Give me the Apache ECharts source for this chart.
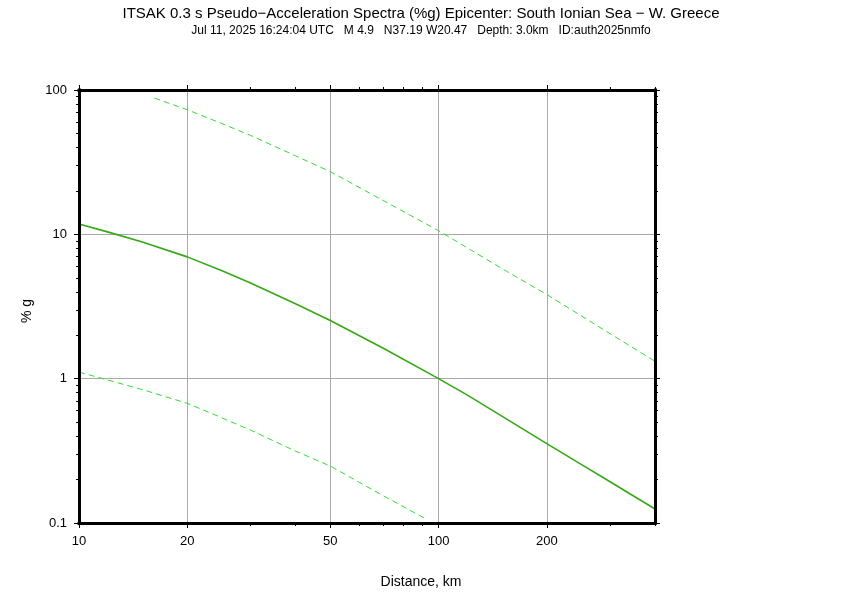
<!DOCTYPE html>
<html>
<head>
<meta charset="utf-8">
<script src="https://cdn.jsdelivr.net/npm/echarts@6/dist/echarts.min.js"></script>
<style>html,body{margin:0;padding:0;background:#fff}#c{width:842px;height:595px}</style>
</head>
<body>
<div id="c"></div>
<script>
// ---- data ----
const distMed = [10, 12, 15, 20, 25, 30, 40, 50, 70, 100, 120, 150, 200, 250, 300, 400];
const pgaMed  = [11.8, 10.4, 8.85, 6.98, 5.6, 4.6, 3.3, 2.53, 1.63, 1.0, 0.772, 0.55, 0.355, 0.254, 0.193, 0.125];
const distUp  = [16.2, 20, 25, 30, 40, 50, 70, 100, 150, 200, 300, 400];
const pgaUp   = [88, 73, 58.5, 48.5, 35, 27.2, 17.2, 10.6, 5.8, 3.83, 2.05, 1.32];
const distLo  = [10, 12, 15, 20, 25, 30, 40, 50, 70, 92];
const pgaLo   = [1.11, 0.98, 0.84, 0.675, 0.535, 0.44, 0.315, 0.248, 0.155, 0.107];

const xMajor = [10, 20, 50, 100, 200];
const xMinor = [30, 40, 60, 70, 80, 90, 300, 400];
const xGrid  = [20, 50, 100, 200];
const yMajor = [0.1, 1, 10, 100];
const yMinor = [0.2,0.3,0.4,0.5,0.6,0.7,0.8,0.9,2,3,4,5,6,7,8,9,20,30,40,50,60,70,80,90];
const yGrid  = [1, 10];
const xRange = [10, 400];
const yRange = [0.1, 100];

const titleText = 'ITSAK 0.3 s Pseudo\u2212Acceleration Spectra (%g) Epicenter: South Ionian Sea \u2212 W. Greece';
const subText = 'Jul 11, 2025 16:24:04 UTC   M 4.9   N37.19 W20.47   Depth: 3.0km   ID:auth2025nmfo';
const xName = 'Distance, km';
const yName = '% g';

// ---- helpers ----
const L = Math.log10;
const FONT = '"Liberation Sans", Arial, Helvetica, sans-serif';
function fmt(v) { return String(parseFloat(Math.pow(10, v).toPrecision(3))); }
function pair(xs, ys) { return xs.map((x, i) => [x, ys[i]]); }

function decoAxis(kind, pos, vals, opts) {
  const rng = kind === 'x' ? xRange : yRange;
  return {
    type: 'value', position: pos, min: L(rng[0]), max: L(rng[1]),
    z: opts.z || 3,
    axisLine: { show: !!opts.line, onZero: false, lineStyle: { color: '#000', width: 3, cap: 'square' } },
    axisTick: { show: !!opts.tick, inside: false, length: opts.len || 5, customValues: vals.map(L),
                lineStyle: { color: '#000', width: 1 } },
    axisLabel: opts.label ? { show: true, customValues: vals.map(L), formatter: fmt, color: '#000',
                fontSize: 13, fontFamily: FONT, margin: opts.margin || 10 } : { show: false },
    splitLine: { show: !!opts.split, lineStyle: { color: '#a9a9a9', width: 1 } }
  };
}

const chart = echarts.init(document.getElementById('c'), null, { renderer: 'canvas' });
const option = {
  backgroundColor: '#fff',
  animation: false,
  grid: { left: 79, right: 187, top: 90, bottom: 72, containLabel: false },
  xAxis: [
    { type: 'log', logBase: 10, min: xRange[0], max: xRange[1], show: false },
    decoAxis('x', 'bottom', xGrid, { split: true, z: 1 }),
    decoAxis('x', 'bottom', xMajor, { line: true, tick: true, label: true, len: 5, margin: 12 }),
    decoAxis('x', 'bottom', xMinor, { tick: true, len: 3 }),
    decoAxis('x', 'top', xMajor, { line: true, tick: true, len: 5 }),
    decoAxis('x', 'top', xMinor, { tick: true, len: 3 })
  ],
  yAxis: [
    { type: 'log', logBase: 10, min: yRange[0], max: yRange[1], show: false },
    decoAxis('y', 'left', yGrid, { split: true, z: 1 }),
    decoAxis('y', 'left', yMajor, { line: true, tick: true, label: true, len: 5, margin: 12 }),
    decoAxis('y', 'left', yMinor, { tick: true, len: 3 }),
    decoAxis('y', 'right', yMajor, { line: true, tick: true, len: 5 }),
    decoAxis('y', 'right', yMinor, { tick: true, len: 3 })
  ],
  series: [
    { type: 'line', name: 'upper', xAxisIndex: 0, yAxisIndex: 0, data: pair(distUp, pgaUp),
      showSymbol: false, symbol: 'none', smooth: false, z: 2,
      lineStyle: { color: '#33dd33', width: 1, type: [6, 4] } },
    { type: 'line', name: 'lower', xAxisIndex: 0, yAxisIndex: 0, data: pair(distLo, pgaLo),
      showSymbol: false, symbol: 'none', smooth: false, z: 2,
      lineStyle: { color: '#33dd33', width: 1, type: [6, 4] } },
    { type: 'line', name: 'median', xAxisIndex: 0, yAxisIndex: 0, data: pair(distMed, pgaMed),
      showSymbol: false, symbol: 'none', smooth: false, z: 2,
      lineStyle: { color: '#35a815', width: 1.6 } }
  ],
  graphic: [
    { type: 'text', left: 'center', top: 6, style: { text: titleText, fill: '#000', font: '15px ' + FONT } },
    { type: 'text', left: 'center', top: 25, style: { text: subText, fill: '#000', font: '12px ' + FONT } },
    { type: 'text', left: 'center', top: 575, style: { text: xName, fill: '#000', font: '14px ' + FONT } },
    { type: 'text', x: 27, y: 311, rotation: Math.PI / 2, style: { text: yName, fill: '#000', font: '14px ' + FONT, align: 'center', verticalAlign: 'middle' } }
  ]
};
chart.setOption(option);
</script>
</body>
</html>
